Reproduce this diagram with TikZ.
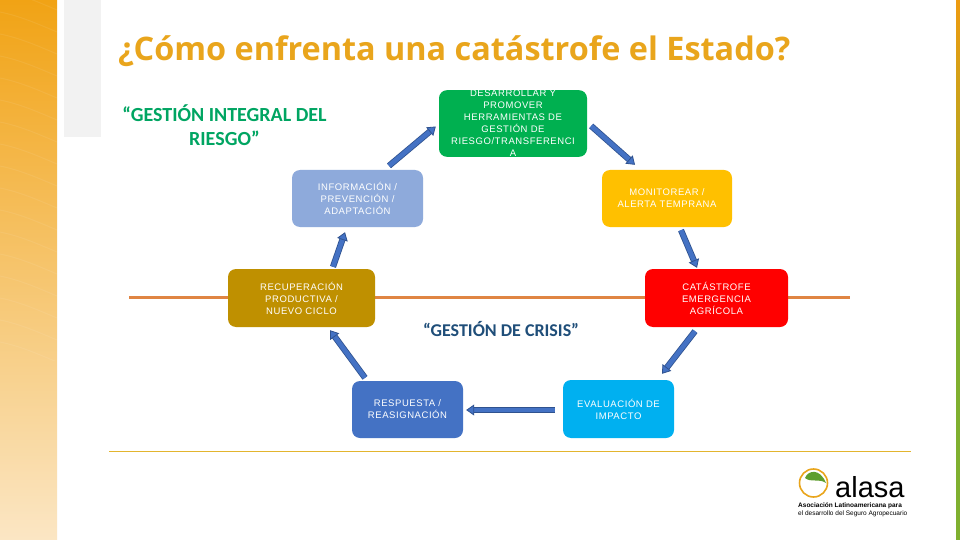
\documentclass[tikz,border=0pt]{standalone}
\usepackage{fontspec}
\setmainfont{Liberation Sans}
\newfontfamily\titlefont{Open Sans}
\newfontfamily\calfont{Carlito}
\newfontfamily\boxfont[LetterSpace=6]{Liberation Sans}
\usetikzlibrary{arrows.meta}
\definecolor{bandtop}{HTML}{F1A315}
\definecolor{bandlow}{HTML}{FBE6C4}
\definecolor{titleorange}{HTML}{E9A51C}
\definecolor{riskgreen}{HTML}{00A562}
\definecolor{crisisblue}{HTML}{1F4E79}
\definecolor{arrowblue}{HTML}{4472C4}
\definecolor{arrowedge}{HTML}{2F528F}
\definecolor{axisorange}{HTML}{E08543}
\definecolor{rulegold}{HTML}{E3B52E}
\definecolor{stripgreen}{HTML}{7FB02F}
\definecolor{striporange}{HTML}{EE9B10}
\definecolor{leafgreen}{HTML}{5E9E2E}
\tikzset{
  stagebox/.style={rounded corners=8pt, inner sep=0pt, align=center, text=white,
    font=\boxfont\fontsize{9.5}{12}\selectfont},
  arrow/.style={line width=0.8pt, draw=arrowedge, double=arrowblue, double distance=4.6pt,
    -{Triangle[length=8pt,width=11pt,fill=arrowblue,color=arrowedge]}},
}
\begin{document}
\begin{tikzpicture}[x=1pt, y=-1pt]
        \useasboundingbox (0,0) rectangle (960,540);
        \fill[white] (0,0) rectangle (960,540);

        % Background
        \fill[top color=bandtop, bottom color=bandlow] (0,0) rectangle (57,540);
        \begin{scope}
          \clip (0,0) rectangle (57,360);
          \foreach \y in {-10,12,...,350}
            \draw[white, opacity=0.07, line width=1pt] (0,\y) .. controls (20,\y+4) and (38,\y+12) .. (57,\y+20);
        \end{scope}
        \fill[black!5] (64,0) rectangle (101,137);
        \fill[top color=striporange, bottom color=stripgreen] (956,0) rectangle (960,330);
        \fill[stripgreen] (956,330) rectangle (960,540);
        \fill[rulegold] (109,451) rectangle (911,452.2);
        \draw[line width=3pt, color=axisorange] (129,297) -- (850,297);

        % Title and headings
        \node[anchor=base west, inner sep=0pt, text=titleorange, font=\titlefont\bfseries\fontsize{32.4}{36}\selectfont] (title) at (118,61) {¿Cómo enfrenta una catástrofe el Estado?};
        \node[align=center, text=riskgreen, font=\calfont\bfseries\fontsize{20}{24}\selectfont] (integral) at (224.5,125) {“GESTIÓN INTEGRAL DEL\\RIESGO”};
        \node[text=crisisblue, font=\calfont\bfseries\fontsize{18}{20}\selectfont] (crisis) at (501,329) {“GESTIÓN DE CRISIS”};

        % Stages
        \node[stagebox, fill={rgb,255:red,0;green,176;blue,80}, minimum width=148pt, minimum height=65pt] (dev) at (513,123.5) {DESARROLLAR Y\\PROMOVER\\HERRAMIENTAS DE\\GESTIÓN DE\\RIESGO/TRANSFERENCI\\A};
        \node[stagebox, fill={rgb,255:red,142;green,170;blue,219}, minimum width=131pt, minimum height=57pt] (info) at (357.5,198.5) {INFORMACIÓN /\\PREVENCIÓN /\\ADAPTACIÓN};
        \node[stagebox, fill={rgb,255:red,255;green,192;blue,0}, minimum width=130pt, minimum height=57pt] (alert) at (667,198.5) {MONITOREAR /\\ALERTA TEMPRANA};
        \node[stagebox, fill={rgb,255:red,191;green,144;blue,0}, minimum width=147pt, minimum height=58pt] (recov) at (301.5,298) {RECUPERACIÓN\\PRODUCTIVA /\\NUEVO CICLO};
        \node[stagebox, fill={rgb,255:red,255;green,0;blue,0}, minimum width=143pt, minimum height=58pt] (emerg) at (716.5,298) {CATÁSTROFE\\EMERGENCIA\\AGRÍCOLA};
        \node[stagebox, fill={rgb,255:red,68;green,114;blue,196}, minimum width=111pt, minimum height=57pt] (resp) at (407.5,409.5) {RESPUESTA /\\REASIGNACIÓN};
        \node[stagebox, fill={rgb,255:red,0;green,176;blue,240}, minimum width=111pt, minimum height=58pt] (impact) at (618.5,409) {EVALUACIÓN DE\\IMPACTO};

        % Arrows
        \draw[arrow] ([xshift=31.5pt,yshift=4pt]info.north) -- ([xshift=-3pt,yshift=-3pt]dev.west);
        \draw[arrow] ([xshift=4pt,yshift=-2.5pt]dev.east) -- ([xshift=-32pt,yshift=5pt]alert.north);
        \draw[arrow] ([xshift=14pt,yshift=-3pt]alert.south) -- ([xshift=-19.5pt,yshift=1pt]emerg.north);
        \draw[arrow] ([xshift=-21.5pt,yshift=-4pt]emerg.south) -- ([xshift=43.5pt,yshift=6pt]impact.north);
        \draw[arrow] ([xshift=-8pt,yshift=-1pt]impact.west) -- ([xshift=3pt,yshift=-0.5pt]resp.east);
        \draw[arrow] ([xshift=-42.5pt,yshift=3pt]resp.north) -- ([xshift=28.5pt,yshift=-3pt]recov.south);
        \draw[arrow] ([xshift=31.5pt,yshift=2pt]recov.north) -- ([xshift=-12.5pt,yshift=-5pt]info.south);

        % Logo
        \draw[line width=1.6pt, color=titleorange] (813.5,483) circle (14pt);
        \fill[leafgreen] (805,478) .. controls (808,470) and (820,468) .. (826,483) .. controls (819,478) and (811,483) .. (805,478);
        \node[anchor=base west, inner sep=0pt, text depth=0pt, font=\fontsize{29}{29}\selectfont] (alasa) at (835,497.5) {alasa};
        \node[anchor=north west, inner sep=0pt, align=left, font=\fontsize{6.5}{7.4}\selectfont] (assoc) at (798,503) {\textbf{Asociación Latinoamericana para}\\el desarrollo del Seguro Agropecuario};
\end{tikzpicture}
\end{document}
